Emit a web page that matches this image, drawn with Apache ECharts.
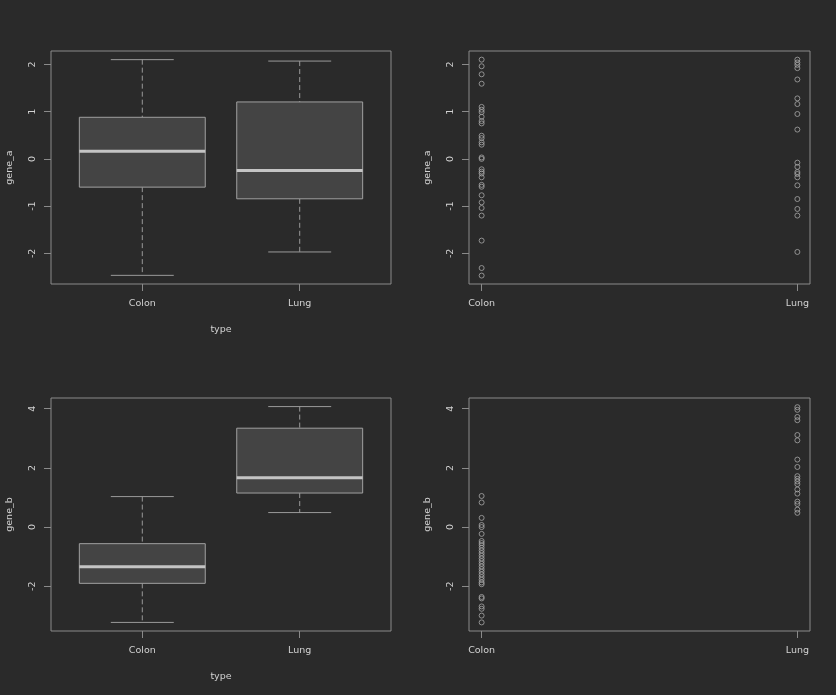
<!DOCTYPE html>
<html>
<head>
<meta charset="utf-8">
<script src="https://cdn.jsdelivr.net/npm/echarts@6/dist/echarts.min.js"></script>
<style>
html,body{margin:0;padding:0;background:#2a2a2a;}
#chart{width:836px;height:695px;}
</style>
</head>
<body>
<div id="chart"></div>
<script>
// ---- data ----
const categories = ['Colon', 'Lung'];
const categoryPositions = [1, 2];

// gene_a values
const geneAColon = [2.10, 1.96, 1.79, 1.59, 1.10, 1.04, 0.99, 0.89, 0.80, 0.75, 0.49, 0.44, 0.35, 0.30,
  0.03, 0.00, -0.22, -0.27, -0.31, -0.39, -0.55, -0.59, -0.77, -0.92, -1.04, -1.20, -1.73, -2.31, -2.47];
const geneALung = [2.10, 2.04, 1.99, 1.92, 1.68, 1.28, 1.16, 0.95, 0.62, -0.08, -0.17, -0.28, -0.32,
  -0.39, -0.56, -0.85, -1.06, -1.20, -1.97];

// gene_b values
const geneBColon = [1.05, 0.83, 0.31, 0.07, 0.00, -0.23, -0.47, -0.54, -0.61, -0.70, -0.79, -0.88, -0.97,
  -1.06, -1.15, -1.24, -1.33, -1.42, -1.51, -1.60, -1.69, -1.78, -1.87, -1.93, -2.36, -2.41, -2.68,
  -2.76, -2.99, -3.22];
const geneBLung = [4.05, 3.96, 3.72, 3.61, 3.11, 2.93, 2.28, 2.03, 1.72, 1.63, 1.54, 1.45, 1.27, 1.13,
  0.86, 0.78, 0.59, 0.48];

// box statistics [lower whisker, Q1, median, Q3, upper whisker]
const boxAColon = [-2.465, -0.598, 0.163, 0.880, 2.100];
const boxALung = [-1.970, -0.845, -0.245, 1.205, 2.070];
const boxBColon = [-3.220, -1.900, -1.340, -0.560, 1.030];
const boxBLung = [0.490, 1.150, 1.670, 3.340, 4.070];

const yTicksA = [-2, -1, 0, 1, 2];
const yTicksB = [-2, 0, 2, 4];
const yRangeA = [-2.648, 2.283];
const yRangeB = [-3.51, 4.36];
const yNames = ['gene_a', 'gene_b'];
const xName = 'type';

// ---- style ----
const BG = '#2a2a2a';
const FRAME = '#8a8a8a';
const TEXT = '#d2d2d2';
const FONT = 'DejaVu Sans';
const FS = 9.5;

const chart = echarts.init(document.getElementById('chart'), null, {renderer: 'canvas'});

const grids = [
  {left: 51, top: 51, width: 340, height: 233},
  {left: 469, top: 51, width: 341, height: 233},
  {left: 51, top: 398, width: 340, height: 233},
  {left: 469, top: 398, width: 341, height: 233}
].map(g => Object.assign({show: true, borderColor: FRAME, borderWidth: 1, backgroundColor: 'transparent'}, g));

function xAxis(gridIndex, min, max, withName) {
  return {
    type: 'value', gridIndex, min, max, position: 'bottom',
    splitLine: {show: false},
    axisLine: {show: false, onZero: false},
    axisTick: {show: true, length: 7, lineStyle: {color: FRAME}, customValues: categoryPositions},
    axisLabel: {
      show: true, margin: 15, color: TEXT, fontFamily: FONT, fontSize: FS,
      customValues: categoryPositions,
      formatter: v => categories[categoryPositions.indexOf(Math.round(v))] || ''
    },
    name: withName ? xName : '',
    nameLocation: 'middle', nameGap: 41,
    nameTextStyle: {color: TEXT, fontFamily: FONT, fontSize: FS}
  };
}
function yAxis(gridIndex, range, ticks, name) {
  return {
    type: 'value', gridIndex, min: range[0], max: range[1], position: 'left',
    splitLine: {show: false},
    axisLine: {show: false, onZero: false},
    axisTick: {show: true, length: 7, lineStyle: {color: FRAME}, customValues: ticks},
    axisLabel: {show: true, rotate: 90, margin: 13, color: TEXT, fontFamily: FONT, fontSize: FS, customValues: ticks},
    name, nameLocation: 'middle', nameRotate: 90, nameGap: 36,
    nameTextStyle: {color: TEXT, fontFamily: FONT, fontSize: FS}
  };
}

function boxSeries(idx, colonStats, lungStats) {
  return {
    type: 'custom', xAxisIndex: idx, yAxisIndex: idx,
    data: [[categoryPositions[0]].concat(colonStats), [categoryPositions[1]].concat(lungStats)],
    encode: {x: 0, y: [1, 2, 3, 4, 5]},
    renderItem: function (params, api) {
      const x = api.value(0);
      const lo = api.value(1), q1 = api.value(2), med = api.value(3), q3 = api.value(4), hi = api.value(5);
      const hw = 0.4, cw = 0.2;
      const c = (a, b) => api.coord([a, b]);
      const pMax = c(x, hi), pQ3 = c(x, q3), pQ1 = c(x, q1), pMin = c(x, lo);
      const capL1 = c(x - cw, hi), capR1 = c(x + cw, hi);
      const capL2 = c(x - cw, lo), capR2 = c(x + cw, lo);
      const bTL = c(x - hw, q3), bBR = c(x + hw, q1);
      const mL = c(x - hw, med), mR = c(x + hw, med);
      const whisk = {stroke: '#9a9a9a', lineWidth: 1, lineDash: [5, 3]};
      const cap = {stroke: '#9a9a9a', lineWidth: 1};
      return {
        type: 'group',
        children: [
          {type: 'line', shape: {x1: pMax[0], y1: pMax[1], x2: pQ3[0], y2: pQ3[1]}, style: whisk},
          {type: 'line', shape: {x1: pQ1[0], y1: pQ1[1], x2: pMin[0], y2: pMin[1]}, style: whisk},
          {type: 'line', shape: {x1: capL1[0], y1: capL1[1], x2: capR1[0], y2: capR1[1]}, style: cap},
          {type: 'line', shape: {x1: capL2[0], y1: capL2[1], x2: capR2[0], y2: capR2[1]}, style: cap},
          {type: 'rect', shape: {x: bTL[0], y: bTL[1], width: bBR[0] - bTL[0], height: bBR[1] - bTL[1]},
            style: {fill: '#444444', stroke: '#a0a0a0', lineWidth: 1}},
          {type: 'line', shape: {x1: mL[0], y1: mL[1], x2: mR[0], y2: mR[1]},
            style: {stroke: '#c4c4c4', lineWidth: 3}}
        ]
      };
    }
  };
}

function stripSeries(idx, colonVals, lungVals) {
  const data = colonVals.map(v => [categoryPositions[0], v]).concat(lungVals.map(v => [categoryPositions[1], v]));
  return {
    type: 'scatter', xAxisIndex: idx, yAxisIndex: idx,
    symbol: 'circle', symbolSize: 5,
    itemStyle: {color: 'rgba(0,0,0,0)', borderColor: '#a8a8a8', borderWidth: 1},
    emphasis: {disabled: true},
    data
  };
}

chart.setOption({
  backgroundColor: BG,
  animation: false,
  grid: grids,
  xAxis: [
    xAxis(0, 0.42, 2.58, true),
    xAxis(1, 0.96, 2.04, false),
    xAxis(2, 0.42, 2.58, true),
    xAxis(3, 0.96, 2.04, false)
  ],
  yAxis: [
    yAxis(0, yRangeA, yTicksA, yNames[0]),
    yAxis(1, yRangeA, yTicksA, yNames[0]),
    yAxis(2, yRangeB, yTicksB, yNames[1]),
    yAxis(3, yRangeB, yTicksB, yNames[1])
  ],
  series: [
    boxSeries(0, boxAColon, boxALung),
    stripSeries(1, geneAColon, geneALung),
    boxSeries(2, boxBColon, boxBLung),
    stripSeries(3, geneBColon, geneBLung)
  ]
});
</script>
</body>
</html>
